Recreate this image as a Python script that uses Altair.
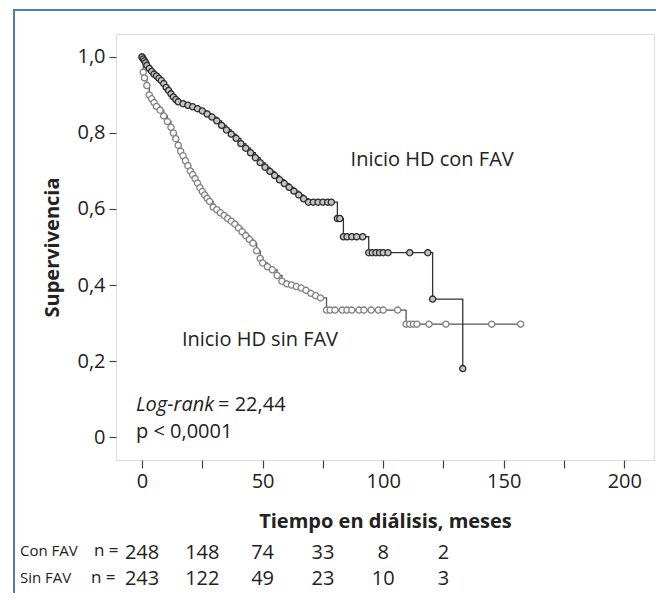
import altair as alt
import pandas as pd

# Kaplan-Meier curves (time in months, survival)
con_t = [0, 0.5, 1, 1.5, 2, 3, 4, 5, 6, 7, 8, 9, 10, 11, 12, 13, 14, 15, 17, 19, 21, 23, 25, 27, 29,
         31, 33, 35, 37, 39, 41, 43, 45, 47, 49, 51, 53, 55, 57, 59, 61, 63, 65, 67, 69, 71, 73, 75, 77,
         78.5, 81, 82, 83.5, 85, 87, 89, 91.5, 94, 95.5, 97, 98.5, 100, 102, 111, 118.5, 120.5, 133]
con_s = [1.0, 0.995, 0.99, 0.985, 0.978, 0.97, 0.962, 0.955, 0.95, 0.944, 0.938, 0.93, 0.92, 0.912,
         0.903, 0.895, 0.888, 0.882, 0.877, 0.873, 0.869, 0.864, 0.858, 0.85, 0.842, 0.832, 0.82, 0.808,
         0.797, 0.786, 0.772, 0.76, 0.748, 0.735, 0.722, 0.71, 0.699, 0.688, 0.677, 0.667, 0.657, 0.647,
         0.637, 0.627, 0.618, 0.618, 0.618, 0.618, 0.618, 0.618, 0.575, 0.575, 0.527, 0.527, 0.527,
         0.527, 0.527, 0.485, 0.485, 0.485, 0.485, 0.485, 0.485, 0.485, 0.485, 0.363, 0.18]

sin_t = [0, 0.5, 1, 2, 3, 4, 5, 6, 7.5, 9, 10.5, 12, 13, 14, 15, 16, 17, 18, 19, 20, 21, 22, 23, 24,
         25, 26, 27, 28, 29.5, 31, 32.5, 34, 35.5, 37, 38.5, 40, 41.5, 43, 44.5, 46, 47.5, 49, 50, 52,
         54, 56, 58, 60, 62, 64, 66, 68, 70, 72, 74, 76.5, 78, 80, 83, 85, 87, 90, 92, 95, 98, 100, 106,
         109.5, 111, 112.5, 114, 119, 126, 145, 157]
sin_s = [1.0, 0.96, 0.945, 0.925, 0.9, 0.89, 0.88, 0.87, 0.86, 0.845, 0.83, 0.815, 0.8, 0.785, 0.768,
         0.752, 0.74, 0.727, 0.714, 0.70, 0.69, 0.68, 0.668, 0.656, 0.646, 0.637, 0.628, 0.62, 0.605,
         0.598, 0.59, 0.583, 0.575, 0.568, 0.56, 0.55, 0.54, 0.53, 0.52, 0.51, 0.49, 0.47, 0.458, 0.448,
         0.44, 0.425, 0.41, 0.403, 0.4, 0.396, 0.392, 0.386, 0.378, 0.372, 0.366, 0.334, 0.334, 0.334,
         0.334, 0.334, 0.334, 0.334, 0.334, 0.334, 0.334, 0.334, 0.334, 0.297, 0.297, 0.297, 0.297,
         0.297, 0.297, 0.297, 0.297]

# Numbers at risk
risk_t = [0, 25, 50, 75, 100, 125]
risk_con = ["248", "148", "74", "33", "8", "2"]
risk_sin = ["243", "122", "49", "23", "10", "3"]

x_ticks = [0, 25, 50, 75, 100, 125, 150, 175, 200]
y_ticks = [0, 0.2, 0.4, 0.6, 0.8, 1.0]

FONT = "Open Sans"
TXT = "#222222"

con_df = pd.DataFrame({"t": con_t, "s": con_s})
sin_df = pd.DataFrame({"t": sin_t, "s": sin_s})

xs = alt.Scale(domain=[-10.8, 212.3], nice=False, zero=False)
ys = alt.Scale(domain=[-0.0605, 1.0605], nice=False, zero=False)

X = alt.X("t:Q", scale=xs,
          axis=alt.Axis(values=x_ticks, title="Tiempo en diálisis, meses",
                        labelExpr="datum.value % 50 == 0 ? datum.label : ''",
                        grid=False, domain=False, tickSize=8, tickColor="#444", tickWidth=1.2,
                        labelFontSize=20, labelFont=FONT, labelColor=TXT, labelPadding=3,
                        titleFontSize=20, titleFont=FONT, titleFontWeight="bold", titleColor=TXT,
                        titlePadding=20))
Y = alt.Y("s:Q", scale=ys,
          axis=alt.Axis(values=y_ticks, title="Supervivencia",
                        labelExpr="datum.value == 0 ? '0' : replace(format(datum.value, '.1f'), '.', ',')",
                        grid=False, domain=False, tickSize=7, tickColor="#444", tickWidth=1.2,
                        labelFontSize=20, labelFont=FONT, labelColor=TXT, labelPadding=4,
                        titleFontSize=20, titleFont=FONT, titleFontWeight="bold", titleColor=TXT,
                        titlePadding=14))

border = alt.Chart(pd.DataFrame({"a": [0]})).mark_rect(
    fill=None, stroke="#4a7db5", strokeWidth=2
).encode(x=alt.value(-102), x2=alt.value(700), y=alt.value(-24), y2=alt.value(700))

sin_line = alt.Chart(sin_df).mark_line(interpolate="step-after", color="#555555", strokeWidth=1.3).encode(x=X, y=Y)
sin_pts = alt.Chart(sin_df).mark_point(shape="circle", fill="white", stroke="#808080", strokeWidth=1.3,
                                       size=38, opacity=1, fillOpacity=1).encode(x="t:Q", y="s:Q")
con_line = alt.Chart(con_df).mark_line(interpolate="step-after", color="#333333", strokeWidth=1.3).encode(x="t:Q", y="s:Q")
con_pts = alt.Chart(con_df).mark_point(shape="circle", fill="#c4c4c4", stroke="#2b2b2b", strokeWidth=1.3,
                                       size=38, opacity=1, fillOpacity=1).encode(x="t:Q", y="s:Q")

labels_df = pd.DataFrame({"t": [120.3, 48.9], "s": [0.729, 0.255],
                          "txt": ["Inicio HD con FAV", "Inicio HD sin FAV"]})
labels = alt.Chart(labels_df).mark_text(font=FONT, fontSize=20, color=TXT, align="center",
                                        baseline="middle").encode(x="t:Q", y="s:Q", text="txt:N")

lr_df = pd.DataFrame({"t": [-2.5], "s": [0.084]})
logrank_i = alt.Chart(lr_df).mark_text(font=FONT, fontSize=20, fontStyle="italic", color=TXT,
                                       align="left", baseline="middle", text="Log-rank").encode(x="t:Q", y="s:Q")
logrank_v = alt.Chart(lr_df).mark_text(font=FONT, fontSize=20, color=TXT, align="left",
                                       baseline="middle", dx=82, text="= 22,44").encode(x="t:Q", y="s:Q")
p_df = pd.DataFrame({"t": [-2.5], "s": [0.012]})
ptxt = alt.Chart(p_df).mark_text(font=FONT, fontSize=20, color=TXT, align="left", baseline="middle",
                                 text="p < 0,0001").encode(x="t:Q", y="s:Q")

risk_df = pd.DataFrame({"t": risk_t, "con": risk_con, "sin": risk_sin})
risk_c = alt.Chart(risk_df).mark_text(font=FONT, fontSize=20, color=TXT, align="center",
                                      baseline="middle").encode(x="t:Q", y=alt.value(519), text="con:N")
risk_s = alt.Chart(risk_df).mark_text(font=FONT, fontSize=20, color=TXT, align="center",
                                      baseline="middle").encode(x="t:Q", y=alt.value(545), text="sin:N")

rowlab_df = pd.DataFrame({"lab": ["Con FAV", "Sin FAV"], "n": ["n =", "n ="]})
row1 = alt.Chart(rowlab_df.iloc[[0]]).mark_text(font=FONT, fontSize=15, color=TXT, align="left",
                                                baseline="middle").encode(x=alt.value(-96), y=alt.value(517), text="lab:N")
row1n = alt.Chart(rowlab_df.iloc[[0]]).mark_text(font=FONT, fontSize=17, color=TXT, align="left",
                                                 baseline="middle").encode(x=alt.value(-22), y=alt.value(517), text="n:N")
row2 = alt.Chart(rowlab_df.iloc[[1]]).mark_text(font=FONT, fontSize=15, color=TXT, align="left",
                                                baseline="middle").encode(x=alt.value(-96), y=alt.value(544), text="lab:N")
row2n = alt.Chart(rowlab_df.iloc[[1]]).mark_text(font=FONT, fontSize=17, color=TXT, align="left",
                                                 baseline="middle").encode(x=alt.value(-25), y=alt.value(544), text="n:N")

chart = alt.layer(
    border, sin_line, sin_pts, con_line, con_pts, labels, logrank_i, logrank_v, ptxt,
    risk_c, risk_s, row1, row1n, row2, row2n
).properties(
    width=538, height=426,
    autosize=alt.AutoSizeParams(type="none"),
    padding={"left": 108, "top": 26, "right": 2, "bottom": 133},
).configure_view(stroke="#444444", strokeWidth=1.5).configure(background="white")

chart.save("out.html", embed_options={"renderer": "svg", "actions": False})
